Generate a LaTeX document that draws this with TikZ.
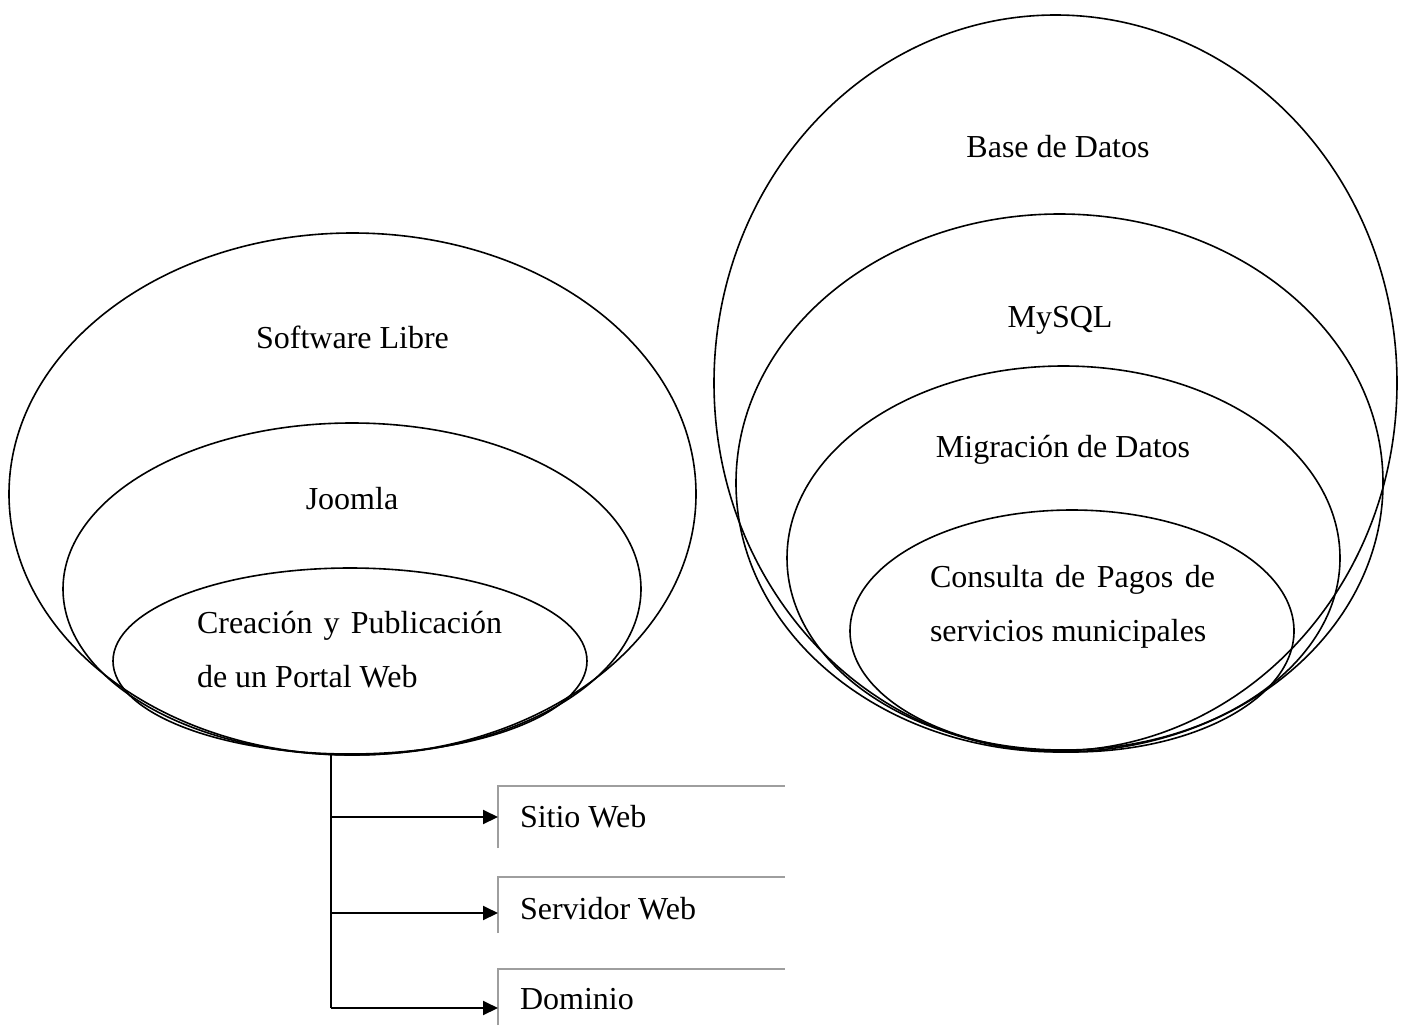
\documentclass[tikz,border=0pt]{standalone}
\usepackage{fontspec}
\setmainfont{Liberation Serif}
\usetikzlibrary{shapes.geometric,arrows.meta}
\begin{document}
\begin{tikzpicture}[x=1pt,y=-1pt,
  ell/.style={ellipse, draw, line width=1.6pt, inner sep=0pt, outer sep=0pt},
  lbl/.style={font=\fontsize{32}{38}\selectfont, inner sep=0pt, outer sep=0pt},
  conn/.style={line width=2pt},
  arr/.style={line width=2pt, -{Triangle[length=15pt,width=14pt]}},
  boxl/.style={rectangle, minimum width=287pt, minimum height=62pt, anchor=north west, inner sep=0pt, outer sep=0pt},
  boxedge/.style={draw=black!38, line width=2pt}
]
\useasboundingbox[fill=white] (0,0) rectangle (1405,1025);

% left group
\node[ell, minimum width=687pt, minimum height=522pt] (sl) at (352.5,494) {};
\node[ell, minimum width=578pt, minimum height=332pt] (jo) at (352,589) {};
\node[ell, minimum width=474pt, minimum height=186pt] (cp) at (350,661) {};
\node[lbl, anchor=base] (tsl) at (352.5,348) {Software Libre};
\node[lbl, anchor=base] (tjo) at (352,509) {Joomla};
\node[lbl, anchor=base west] (tcp1) at (197,633) {\makebox[305pt][s]{Creación y Publicación}};
\node[lbl, anchor=base west] (tcp2) at (197,687) {de un Portal Web};

% right group
\node[ell, minimum width=683pt, minimum height=736pt] (bd) at (1055.5,383) {};
\node[ell, minimum width=647pt, minimum height=538pt] (my) at (1059.5,483) {};
\node[ell, minimum width=553pt, minimum height=384pt] (mi) at (1063.5,558) {};
\node[ell, minimum width=444pt, minimum height=242pt] (co) at (1072,631) {};
\node[lbl, anchor=base] (tbd) at (1058,157) {Base de Datos};
\node[lbl, anchor=base] (tmy) at (1060,327) {MySQL};
\node[lbl, anchor=base] (tmi) at (1063,457) {Migración de Datos};
\node[lbl, anchor=base west] (tco1) at (930,587) {\makebox[285pt][s]{Consulta de Pagos de}};
\node[lbl, anchor=base west] (tco2) at (930,641) {servicios municipales};

% boxes
\node[boxl] (b1) at (498,786) {};
\node[boxl, minimum height=56pt] (b2) at (498,877) {};
\node[boxl, minimum height=56pt] (b3) at (498,969) {};
\draw[boxedge] (b1.south west) -- (b1.north west) -- (b1.north east);
\draw[boxedge] (b2.south west) -- (b2.north west) -- (b2.north east);
\draw[boxedge] (b3.south west) -- (b3.north west) -- (b3.north east);
\node[lbl, anchor=base west] (t1) at (520,827) {Sitio Web};
\node[lbl, anchor=base west] (t2) at (520,919) {Servidor Web};
\node[lbl, anchor=base west] (t3) at (520,1009) {Dominio};

% connectors
\coordinate (j1) at (331,817);
\coordinate (j2) at (331,913);
\coordinate (j3) at (331,1008);
\draw[conn] (j3 |- cp.south) -- (j3);
\draw[arr] (j1) -- (j1 -| b1.west);
\draw[arr] (j2) -- (j2 -| b2.west);
\draw[arr] (j3) -- (j3 -| b3.west);
\end{tikzpicture}
\end{document}
